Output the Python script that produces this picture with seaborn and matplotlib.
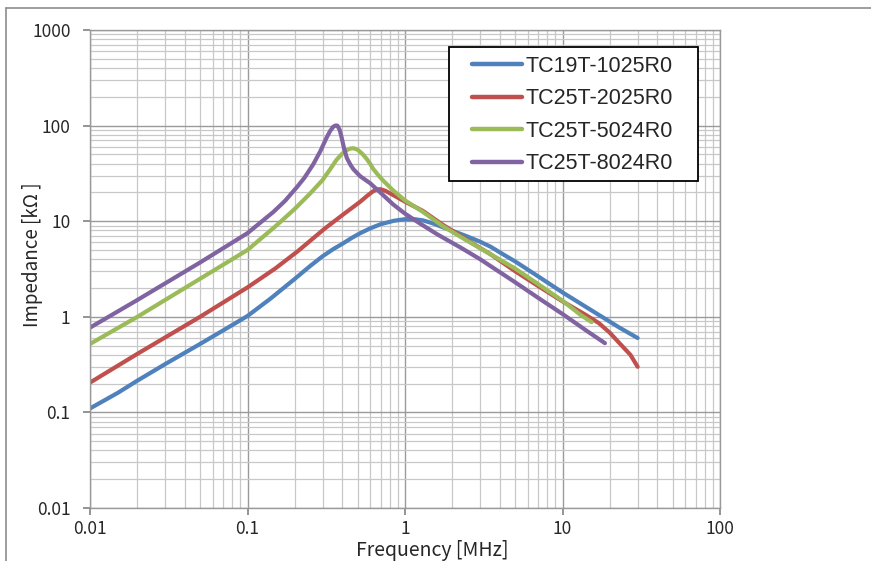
import numpy as np
import pandas as pd
import seaborn as sns
import matplotlib
matplotlib.use('Agg')
import matplotlib.pyplot as plt
from matplotlib.ticker import LogLocator, FuncFormatter, NullFormatter
from matplotlib.lines import Line2D
from matplotlib.patches import Rectangle

# series names
names = ['TC19T-1025R0', 'TC25T-2025R0', 'TC25T-5024R0', 'TC25T-8024R0']

# TC19T-1025R0
f_1025 = [0.01, 0.015, 0.02, 0.03, 0.05, 0.07, 0.1, 0.14, 0.2, 0.25, 0.3, 0.35, 0.4, 0.46, 0.52, 0.6,
          0.7, 0.85, 1.0, 1.15, 1.3, 1.5, 1.75, 2.1, 2.5, 3.0, 3.5, 4.2, 5, 7, 10, 15, 23, 30]
z_1025 = [0.11, 0.16, 0.215, 0.32, 0.52, 0.72, 1.02, 1.55, 2.5, 3.4, 4.3, 5.1, 5.8, 6.7, 7.5, 8.4,
          9.3, 10.1, 10.5, 10.5, 10.2, 9.5, 8.6, 7.7, 6.9, 6.1, 5.4, 4.5, 3.8, 2.65, 1.8, 1.19, 0.77, 0.6]

# TC25T-2025R0
f_2025 = [0.01, 0.02, 0.05, 0.1, 0.15, 0.21, 0.31, 0.42, 0.52, 0.57, 0.62, 0.66, 0.7, 0.75, 0.84, 1.0,
          1.3, 1.75, 2.5, 3.5, 5, 7, 10, 14, 17, 20, 23, 27, 30]
z_2025 = [0.205, 0.41, 1.0, 2.03, 3.2, 4.9, 8.4, 12.3, 16.0, 18.2, 20.3, 21.5, 21.6, 20.8, 18.8, 16.0,
          12.8, 9.1, 6.3, 4.5, 3.0, 2.1, 1.45, 1.05, 0.86, 0.68, 0.53, 0.4, 0.3]

# TC25T-5024R0
f_5024 = [0.01, 0.02, 0.05, 0.1, 0.15, 0.2, 0.25, 0.3, 0.335, 0.368, 0.4, 0.427, 0.45, 0.47, 0.5,
          0.54, 0.57, 0.6, 0.63, 0.68, 0.72, 0.84, 1.0, 1.3, 1.75, 2.5, 3.5, 5, 7, 10, 13, 15.3]
z_5024 = [0.52, 1.0, 2.5, 5.0, 8.8, 13.5, 19.5, 27.0, 35.0, 44.0, 51.0, 55.5, 57.5, 58.0, 56.0,
          50.0, 45.0, 40.0, 35.0, 30.0, 27.0, 21.0, 16.5, 12.5, 8.8, 6.2, 4.5, 3.2, 2.2, 1.47, 1.05, 0.88]

# TC25T-8024R0
f_8024 = [0.01, 0.02, 0.05, 0.1, 0.146, 0.173, 0.205, 0.23, 0.262, 0.29, 0.318, 0.335, 0.35, 0.36,
          0.372, 0.385, 0.396, 0.41, 0.427, 0.45, 0.47, 0.52, 0.6, 0.72, 0.84, 1.0, 1.24, 1.6, 2.3,
          3.0, 5, 7, 10, 14.3, 18.6]
z_8024 = [0.77, 1.5, 3.7, 7.5, 12.5, 16.3, 22.5, 28.5, 39.6, 54.0, 75.0, 88.0, 97.0, 100.0,
          100.0, 90.0, 75.0, 58.0, 46.0, 39.0, 35.0, 29.5, 25.0, 19.0, 15.0, 12.0, 9.5, 7.3, 5.2,
          4.0, 2.3, 1.58, 1.07, 0.71, 0.53]

colors = ['#4F81BD', '#C0504D', '#9BBB59', '#8064A2']

frames = []
for name, f, z in zip(names, [f_1025, f_2025, f_5024, f_8024], [z_1025, z_2025, z_5024, z_8024]):
    frames.append(pd.DataFrame({'Frequency': f, 'Impedance': z, 'Series': name}))
df = pd.concat(frames, ignore_index=True)

sns.set_theme(style='white')
plt.rcParams['font.family'] = ['Noto Sans CJK JP', 'DejaVu Sans']

fig = plt.figure(figsize=(8.71, 5.61), dpi=100)
ax = fig.add_axes([90 / 871, 1 - 508 / 561, 630 / 871, 478 / 561])

sns.lineplot(data=df, x='Frequency', y='Impedance', hue='Series', hue_order=names,
             palette=colors, linewidth=3.0, estimator=None, sort=False, ax=ax)
for ln in ax.get_lines():
    ln.set_solid_joinstyle('round')
    ln.set_solid_capstyle('round')

ax.set_xscale('log')
ax.set_yscale('log')
ax.set_xlim(0.01, 100)
ax.set_ylim(0.01, 1000)

ax.xaxis.set_major_locator(LogLocator(base=10, numticks=10))
ax.yaxis.set_major_locator(LogLocator(base=10, numticks=10))
ax.xaxis.set_minor_locator(LogLocator(base=10, subs=np.arange(2, 10), numticks=20))
ax.yaxis.set_minor_locator(LogLocator(base=10, subs=np.arange(2, 10), numticks=20))
fmt = FuncFormatter(lambda v, p: '%g' % v)
ax.xaxis.set_major_formatter(fmt)
ax.yaxis.set_major_formatter(fmt)
ax.xaxis.set_minor_formatter(NullFormatter())
ax.yaxis.set_minor_formatter(NullFormatter())

ax.grid(which='major', color='#9a9a9a', linewidth=1.0)
ax.grid(which='minor', color='#c8c8c8', linewidth=0.9)
ax.set_axisbelow(True)

for s in ax.spines.values():
    s.set_color('#9a9a9a')
    s.set_linewidth(1.0)

ax.tick_params(axis='both', which='major', direction='out', length=5, color='#868686',
               labelsize=12.5, bottom=True, left=True)
ax.tick_params(axis='x', which='major', pad=4)
ax.tick_params(axis='y', which='major', pad=9)
ax.tick_params(axis='both', which='minor', length=0)

ax.set_xlabel('Frequency [MHz]', fontsize=14, va='center')
ax.set_ylabel('Impedance [kΩ ]', fontsize=13.5, va='center')
ax.xaxis.set_label_coords(0.544, -0.088)
ax.yaxis.set_label_coords(-0.0905, 0.529)

# legend without its own frame, box drawn separately to match padding
leg = ax.legend(loc='upper left', bbox_to_anchor=(472 / 871, 1 - 56 / 561),
                bbox_transform=fig.transFigure, frameon=False,
                handlelength=2.3, handletextpad=0.2, borderpad=0, labelspacing=0.53,
                borderaxespad=0, prop={'family': ['Liberation Sans', 'DejaVu Sans'], 'size': 15.5})
leg.set_zorder(6)
for h in leg.get_lines():
    h.set_linewidth(3.2)
    h.set_solid_capstyle('round')
ax.add_patch(Rectangle((449 / 871, 1 - 181 / 561), 249 / 871, 134 / 561, transform=fig.transFigure,
                       facecolor='white', edgecolor='black', linewidth=1.3, zorder=5, clip_on=False))

# outer chart frame (top and left edges)
fig.add_artist(Line2D([6 / 871, 1], [1 - 8 / 561, 1 - 8 / 561], color='#8c8c8c', linewidth=1.2))
fig.add_artist(Line2D([6 / 871, 6 / 871], [0, 1 - 8 / 561], color='#8c8c8c', linewidth=1.2))

fig.savefig('out.png', dpi=100)
